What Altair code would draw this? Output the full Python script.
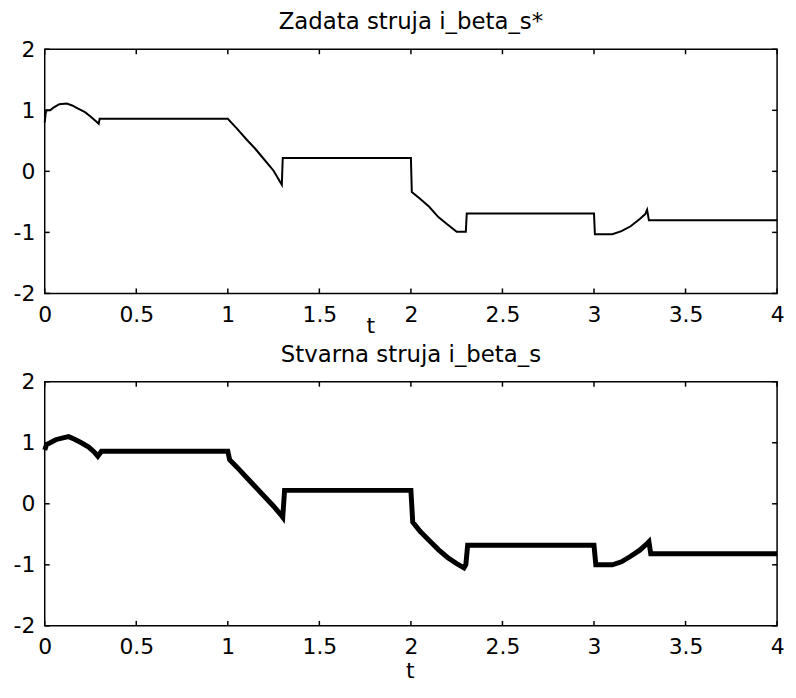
import altair as alt
import pandas as pd

# Reference current i_beta_s*
t_ref = [0.0, 0.005, 0.01, 0.03, 0.05, 0.08, 0.12, 0.15, 0.18, 0.22, 0.25, 0.28, 0.295, 0.30,
         1.0, 1.05, 1.1, 1.15, 1.2, 1.25, 1.295, 1.30,
         2.0, 2.005, 2.05, 2.1, 2.15, 2.2, 2.25, 2.3, 2.305,
         3.0, 3.005, 3.1, 3.15, 3.2, 3.25, 3.28, 3.29, 3.30, 4.0]
i_ref = [0.80, 0.95, 1.0, 1.0, 1.05, 1.10, 1.11, 1.08, 1.03, 0.97, 0.90, 0.82, 0.78, 0.86,
         0.86, 0.70, 0.53, 0.37, 0.19, 0.01, -0.22, 0.22,
         0.22, -0.34, -0.45, -0.58, -0.75, -0.87, -0.99, -0.99, -0.69,
         -0.69, -1.03, -1.03, -0.98, -0.90, -0.78, -0.70, -0.63, -0.80, -0.80]

t_act = [0.0, 0.01, 0.03, 0.06, 0.10, 0.13, 0.16, 0.20, 0.24, 0.27, 0.29, 0.30, 0.31,
         1.0, 1.01, 1.05, 1.10, 1.15, 1.20, 1.25, 1.29, 1.30, 1.31,
         2.0, 2.01, 2.05, 2.10, 2.15, 2.20, 2.25, 2.29, 2.30, 2.31,
         3.0, 3.01, 3.10, 3.15, 3.20, 3.25, 3.29, 3.30, 3.31, 4.0]
i_act = [0.88, 0.97, 1.0, 1.05, 1.08, 1.10, 1.06, 1.0, 0.93, 0.85, 0.78, 0.82, 0.86,
         0.86, 0.72, 0.60, 0.44, 0.28, 0.12, -0.04, -0.18, -0.22, 0.22,
         0.22, -0.30, -0.45, -0.60, -0.75, -0.88, -0.98, -1.05, -1.0, -0.68,
         -0.68, -1.0, -1.0, -0.95, -0.86, -0.76, -0.65, -0.62, -0.82, -0.82]

x_ticks = [0, 0.5, 1, 1.5, 2, 2.5, 3, 3.5, 4]
y_ticks = [-2, -1, 0, 1, 2]

titles = ["Zadata struja i_beta_s*", "Stvarna struja i_beta_s"]

W, H = 738, 246
FONT = "DejaVu Sans"
TL = 5
LBL = "datum.value < 0 ? '-' + (-datum.value) : '' + datum.value"


def panel(t, v, title, sw, tx, ty):
    df = pd.DataFrame({"t": t, "v": v})
    xs = alt.Scale(domain=[0, 4], nice=False, zero=False)
    ys = alt.Scale(domain=[-2, 2], nice=False, zero=False)
    xax = alt.Axis(values=x_ticks, title="t", ticks=False, domain=False, grid=False,
                   labelFont=FONT, labelFontSize=22, labelColor="black", labelPadding=11,
                   labelFlush=False, labelOverlap=False, labelExpr=LBL,
                   titleFont=FONT, titleFontSize=22, titleFontWeight="normal", titleColor="black",
                   titleX=tx, titleY=ty, titleBaseline="bottom")
    yax = alt.Axis(values=y_ticks, title=None, ticks=False, domain=False, grid=False,
                   labelFont=FONT, labelFontSize=22, labelColor="black", labelPadding=10,
                   labelFlush=False, labelOverlap=False, labelExpr=LBL)
    line = alt.Chart(df).mark_line(color="black", strokeWidth=sw).encode(
        x=alt.X("t:Q", scale=xs, axis=xax),
        y=alt.Y("v:Q", scale=ys, axis=yax),
    )
    xt = pd.DataFrame({"t": x_ticks})
    yt = pd.DataFrame({"v": y_ticks})
    tick_style = dict(color="black", strokeWidth=1.5)
    bt = alt.Chart(xt).mark_rule(**tick_style).encode(
        x=alt.X("t:Q", scale=xs, axis=xax), y=alt.value(H), y2=alt.value(H - TL))
    tt = alt.Chart(xt).mark_rule(**tick_style).encode(
        x=alt.X("t:Q", scale=xs, axis=xax), y=alt.value(0), y2=alt.value(TL))
    lt = alt.Chart(yt).mark_rule(**tick_style).encode(
        y=alt.Y("v:Q", scale=ys, axis=yax), x=alt.value(0), x2=alt.value(TL))
    rt = alt.Chart(yt).mark_rule(**tick_style).encode(
        y=alt.Y("v:Q", scale=ys, axis=yax), x=alt.value(W - TL), x2=alt.value(W))
    return alt.layer(line, bt, tt, lt, rt).properties(
        width=W, height=H,
        title=alt.TitleParams(title, font=FONT, fontSize=23, fontWeight="normal",
                              color="black", anchor="middle", offset=4),
    )


top = panel(t_ref, i_ref, titles[0], 2, 328, 44)
bottom = panel(t_act, i_act, titles[1], 5, 368, 57)

chart = alt.vconcat(top, bottom, spacing=6).properties(
    padding={"left": 4, "top": 0, "right": 0, "bottom": 0},
    background="white",
).configure_view(stroke="black", strokeWidth=1.5)

chart.save("out.html", embed_options={"renderer": "svg", "actions": False})
